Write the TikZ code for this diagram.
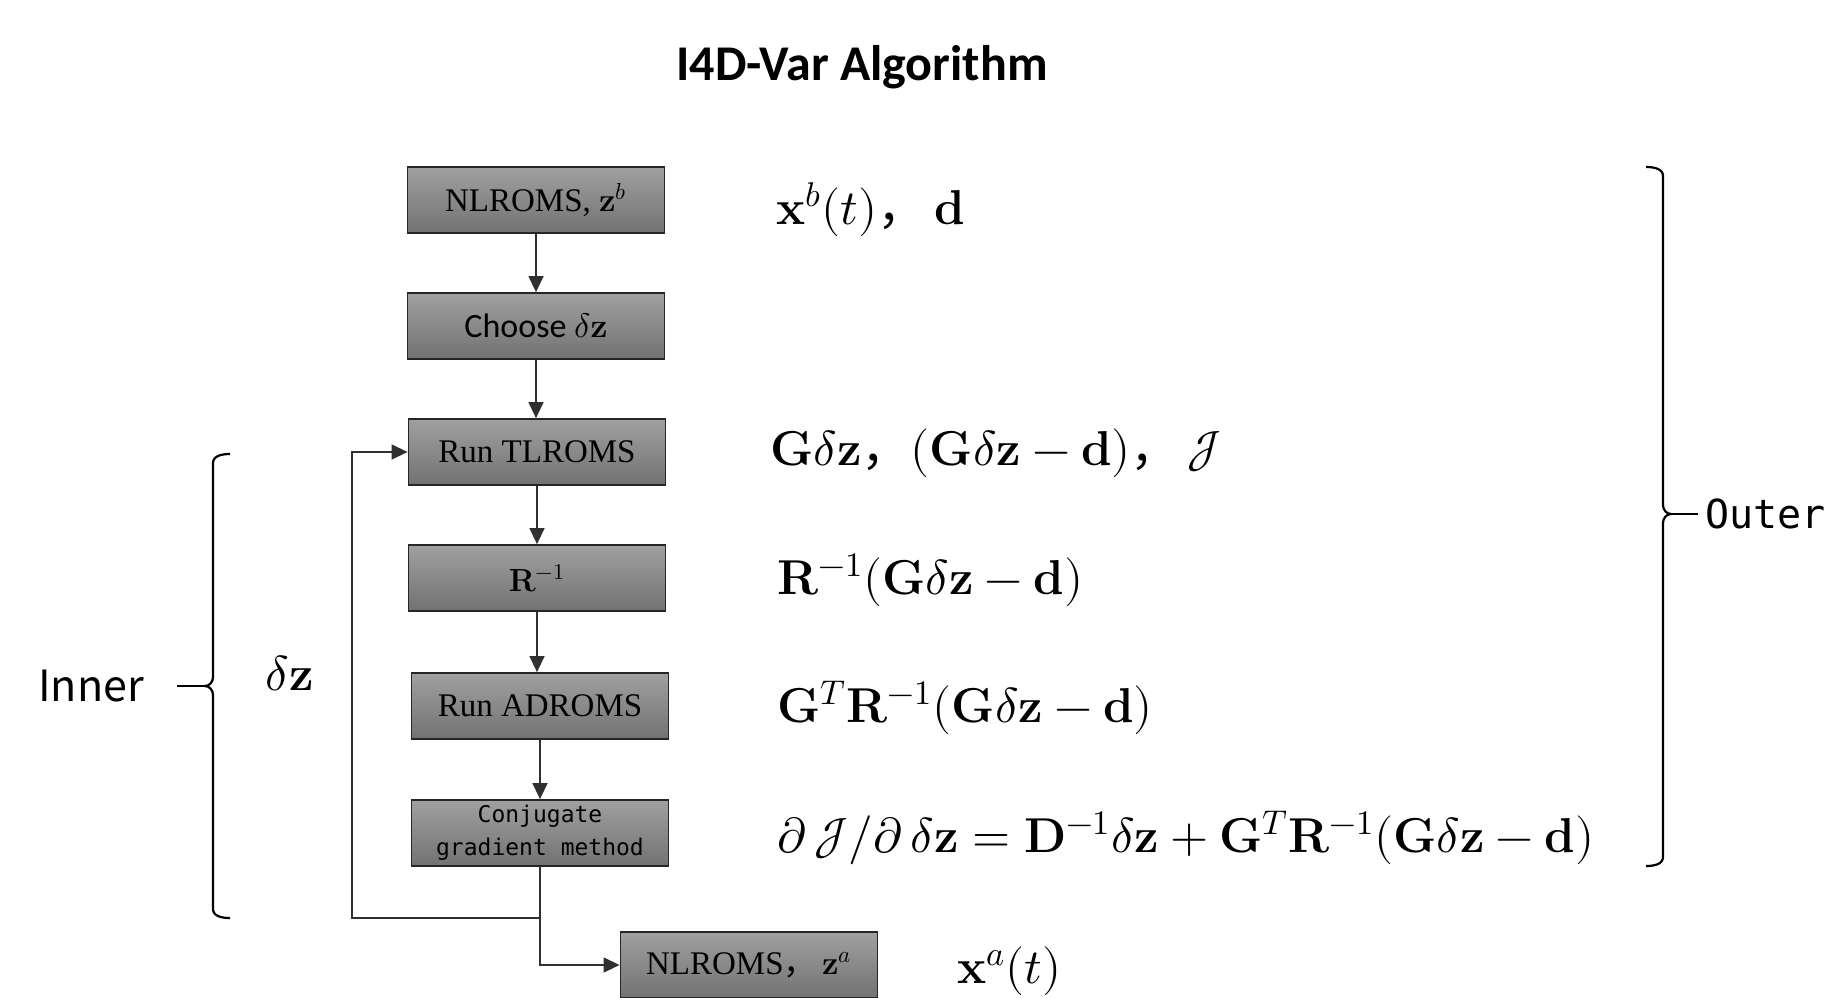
\documentclass[tikz,border=0pt]{standalone}
\usepackage{fontspec}
\usepackage{unicode-math}
\setmathfont{Latin Modern Math}
\usetikzlibrary{arrows.meta}
\newfontfamily\timesf{Liberation Serif}
\newfontfamily\calf{Carlito}
\newfontfamily\cjkf{Noto Sans CJK SC}
\newfontfamily\monof{DejaVu Sans Mono}
\definecolor{boxtop}{HTML}{A0A0A0}
\definecolor{boxbot}{HTML}{727272}
\definecolor{linec}{HTML}{303030}
\newcommand{\eqsize}{\fontsize{24.5}{29}\selectfont}
\tikzset{
  box/.style={draw=black!85, line width=0.9pt, top color=boxtop, bottom color=boxbot,
    minimum width=128.5pt, minimum height=33pt, inner sep=0pt, align=center},
  arr/.style={draw=linec, line width=0.7pt, -{Triangle[length=8pt,width=7.5pt]}},
  conn/.style={draw=linec, line width=0.7pt},
  brace/.style={draw=black, line width=1.1pt},
  mtext/.style={anchor=west, inner sep=0pt}
}
\begin{document}
\begin{tikzpicture}[x=0.5pt,y=-0.5pt]
\useasboundingbox (0,0) rectangle (1830,997);
\clip (0,0) rectangle (1830,997);
\fill[white] (0,0) rectangle (1830,997);

% title
\node (title) at (862,67) {\calf\bfseries\fontsize{25}{30}\selectfont I4D-Var Algorithm};

% boxes
\node[box] (b1) at (536,200) {\timesf\fontsize{16.5}{20}\selectfont NLROMS, $\mathbf{z}^{b}$};
\node[box] (b2) at (536,326) {\calf\fontsize{17}{20}\selectfont Choose $\delta\mathbf{z}$};
\node[box] (b3) at (537,452) {\timesf\fontsize{16.5}{20}\selectfont Run TLROMS};
\node[box] (b4) at (537,578) {\fontsize{16}{20}\selectfont $\mathbf{R}^{-1}$};
\node[box] (b5) at (540,706) {\timesf\fontsize{16.5}{20}\selectfont Run ADROMS};
\node[box, font=\monof\fontsize{11.5}{16.5}\selectfont] (b6) at (540,833) {Conjugate\\gradient method};
\node[box] (b7) at (749,965) {\timesf\fontsize{16.5}{20}\selectfont NLROMS{\cjkf，}\,$\mathbf{z}^{a}$};

% vertical arrows
\draw[arr] (b1.south) -- (b1.south |- b2.north);
\draw[arr] (b2.south) -- (b2.south |- b3.north);
\draw[arr] (b3.south) -- (b3.south |- b4.north);
\draw[arr] (b4.south) -- (b4.south |- b5.north);
\draw[arr] (b5.south) -- (b5.south |- b6.north);

% loop and exit
\coordinate (j) at (540,918);
\coordinate (fb) at (352,918);
\draw[conn] (b6.south) -- (j);
\draw[arr] (j) -- (fb) |- (b3.west);
\draw[arr] (j) |- (b7.west);

% right-hand formulas
\node[mtext] (t1) at (776,210) {\eqsize $\mathbf{x}^b(t)${\cjkf，}\,$\mathbf{d}$};
\node[mtext] (t2) at (770,453) {\eqsize $\mathbf{G}\delta\mathbf{z}${\cjkf，}$(\mathbf{G}\delta\mathbf{z}-\mathbf{d})${\cjkf，}\,$\mathcal{J}$};
\node[mtext] (t3) at (777,580) {\eqsize $\mathbf{R}^{-1}(\mathbf{G}\delta\mathbf{z}-\mathbf{d})$};
\node[mtext] (t4) at (777,708) {\eqsize $\mathbf{G}^T\mathbf{R}^{-1}(\mathbf{G}\delta\mathbf{z}-\mathbf{d})$};
\node[mtext] (t5) at (777,838) {\eqsize $\partial\,\mathcal{J}/\partial\,\delta\mathbf{z}=\mathbf{D}^{-1}\delta\mathbf{z}+\mathbf{G}^T\mathbf{R}^{-1}(\mathbf{G}\delta\mathbf{z}-\mathbf{d})$};
\node[mtext] (t6) at (957,971) {\eqsize $\mathbf{x}^a(t)$};

% inner brace
\node (dz) at (290,673) {\eqsize $\delta\mathbf{z}$};
\node (inner) at (91,686) {\cjkf\fontsize{21.5}{26}\selectfont Inner};
\coordinate (itip) at (205,686);
\draw[brace] (230,454) to[out=180,in=90] (213,463) -- (213,677) to[out=-90,in=0] (itip)
  to[out=0,in=90] (213,695) -- (213,909) to[out=-90,in=180] (230,918);
\draw[brace] (inner.east) ++(26,0) -- (itip);

% outer brace
\node[anchor=west] (outer) at (1698,514) {\monof\fontsize{20}{24}\selectfont Outer};
\coordinate (otip) at (1671,514);
\draw[brace] (1646,167) to[out=0,in=90] (1663,176) -- (1663,505) to[out=-90,in=180] (otip)
  to[out=180,in=90] (1663,523) -- (1663,857) to[out=-90,in=0] (1646,866);
\draw[brace] (otip) -- (outer.west);
\end{tikzpicture}
\end{document}
